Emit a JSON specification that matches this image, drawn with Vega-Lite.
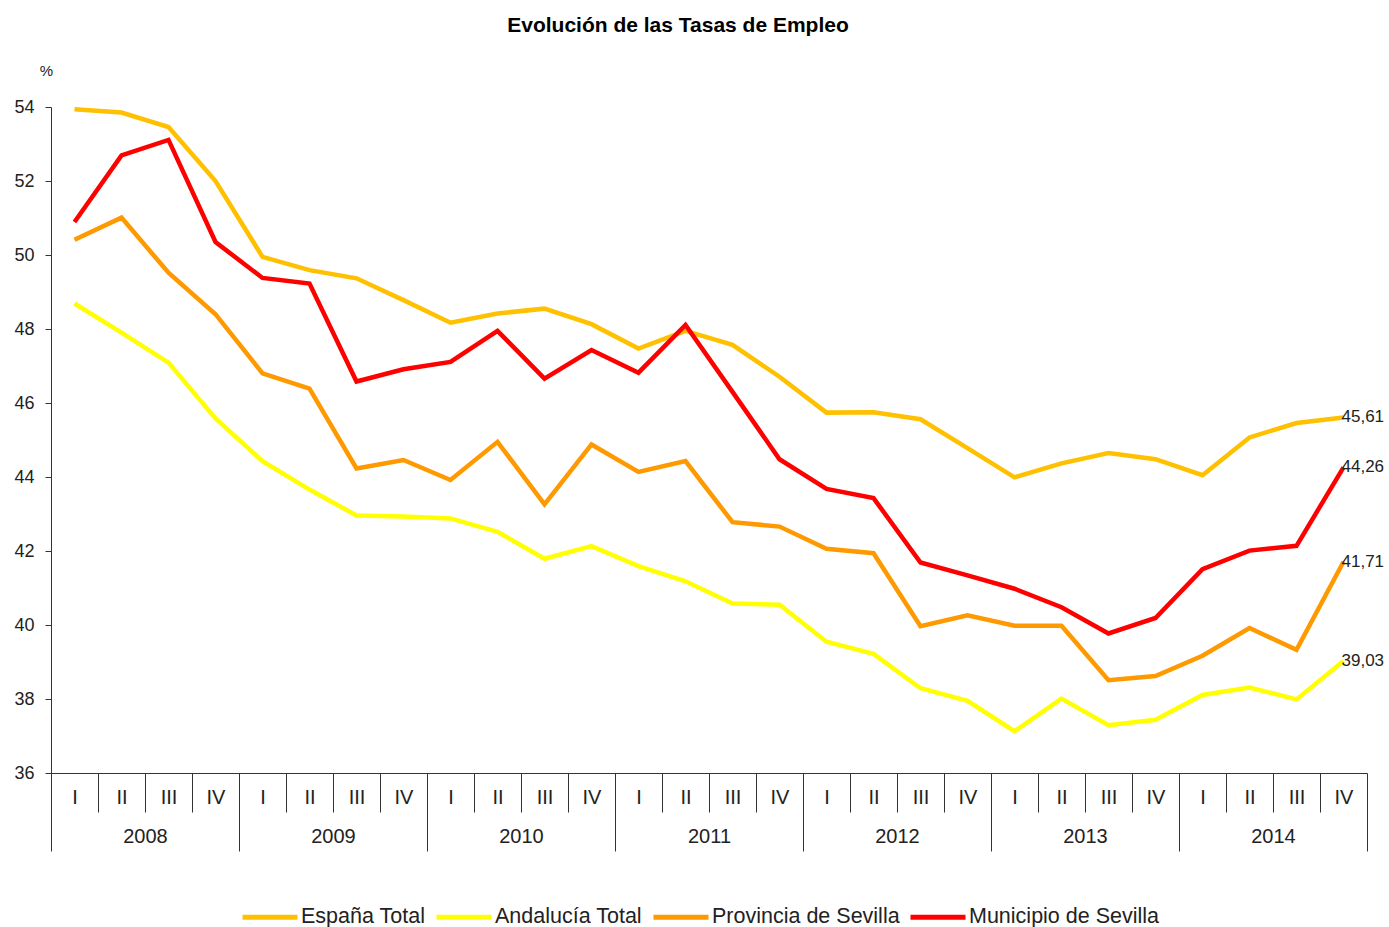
{
  "$schema": "https://vega.github.io/schema/vega-lite/v6.json",
  "width": 1316,
  "height": 666,
  "autosize": {"type": "none"},
  "padding": {"left": 51, "top": 107, "right": 22, "bottom": 154},
  "background": "white",
  "config": {
    "font": "Liberation Sans",
    "view": {"stroke": null},
    "locale": {"number": {"decimal": ",", "thousands": ".", "grouping": [3], "currency": ["", " €"]}}
  },
  "title": {
    "text": "Evolución de las Tasas de Empleo",
    "fontSize": 21,
    "fontWeight": "bold",
    "font": "Liberation Sans",
    "color": "#000000",
    "frame": "group",
    "anchor": "middle",
    "dx": -31,
    "offset": 27
  },
  "data": {
    "values": [
      {"serie": "España Total", "n": 1, "tasa": 53.94},
      {"serie": "España Total", "n": 2, "tasa": 53.85},
      {"serie": "España Total", "n": 3, "tasa": 53.46},
      {"serie": "España Total", "n": 4, "tasa": 52.00},
      {"serie": "España Total", "n": 5, "tasa": 49.95},
      {"serie": "España Total", "n": 6, "tasa": 49.59},
      {"serie": "España Total", "n": 7, "tasa": 49.37},
      {"serie": "España Total", "n": 8, "tasa": 48.78},
      {"serie": "España Total", "n": 9, "tasa": 48.17},
      {"serie": "España Total", "n": 10, "tasa": 48.42},
      {"serie": "España Total", "n": 11, "tasa": 48.55},
      {"serie": "España Total", "n": 12, "tasa": 48.13},
      {"serie": "España Total", "n": 13, "tasa": 47.47},
      {"serie": "España Total", "n": 14, "tasa": 47.95},
      {"serie": "España Total", "n": 15, "tasa": 47.57},
      {"serie": "España Total", "n": 16, "tasa": 46.71},
      {"serie": "España Total", "n": 17, "tasa": 45.74},
      {"serie": "España Total", "n": 18, "tasa": 45.75},
      {"serie": "España Total", "n": 19, "tasa": 45.56},
      {"serie": "España Total", "n": 20, "tasa": 44.78},
      {"serie": "España Total", "n": 21, "tasa": 43.99},
      {"serie": "España Total", "n": 22, "tasa": 44.37},
      {"serie": "España Total", "n": 23, "tasa": 44.65},
      {"serie": "España Total", "n": 24, "tasa": 44.48},
      {"serie": "España Total", "n": 25, "tasa": 44.05},
      {"serie": "España Total", "n": 26, "tasa": 45.07},
      {"serie": "España Total", "n": 27, "tasa": 45.46},
      {"serie": "España Total", "n": 28, "tasa": 45.61},
      {"serie": "Andalucía Total", "n": 1, "tasa": 48.69},
      {"serie": "Andalucía Total", "n": 2, "tasa": 47.90},
      {"serie": "Andalucía Total", "n": 3, "tasa": 47.09},
      {"serie": "Andalucía Total", "n": 4, "tasa": 45.58},
      {"serie": "Andalucía Total", "n": 5, "tasa": 44.43},
      {"serie": "Andalucía Total", "n": 6, "tasa": 43.66},
      {"serie": "Andalucía Total", "n": 7, "tasa": 42.96},
      {"serie": "Andalucía Total", "n": 8, "tasa": 42.93},
      {"serie": "Andalucía Total", "n": 9, "tasa": 42.88},
      {"serie": "Andalucía Total", "n": 10, "tasa": 42.52},
      {"serie": "Andalucía Total", "n": 11, "tasa": 41.79},
      {"serie": "Andalucía Total", "n": 12, "tasa": 42.13},
      {"serie": "Andalucía Total", "n": 13, "tasa": 41.59},
      {"serie": "Andalucía Total", "n": 14, "tasa": 41.18},
      {"serie": "Andalucía Total", "n": 15, "tasa": 40.58},
      {"serie": "Andalucía Total", "n": 16, "tasa": 40.55},
      {"serie": "Andalucía Total", "n": 17, "tasa": 39.55},
      {"serie": "Andalucía Total", "n": 18, "tasa": 39.22},
      {"serie": "Andalucía Total", "n": 19, "tasa": 38.29},
      {"serie": "Andalucía Total", "n": 20, "tasa": 37.95},
      {"serie": "Andalucía Total", "n": 21, "tasa": 37.13},
      {"serie": "Andalucía Total", "n": 22, "tasa": 38.01},
      {"serie": "Andalucía Total", "n": 23, "tasa": 37.29},
      {"serie": "Andalucía Total", "n": 24, "tasa": 37.44},
      {"serie": "Andalucía Total", "n": 25, "tasa": 38.11},
      {"serie": "Andalucía Total", "n": 26, "tasa": 38.31},
      {"serie": "Andalucía Total", "n": 27, "tasa": 37.99},
      {"serie": "Andalucía Total", "n": 28, "tasa": 39.03},
      {"serie": "Provincia de Sevilla", "n": 1, "tasa": 50.41},
      {"serie": "Provincia de Sevilla", "n": 2, "tasa": 51.01},
      {"serie": "Provincia de Sevilla", "n": 3, "tasa": 49.52},
      {"serie": "Provincia de Sevilla", "n": 4, "tasa": 48.40},
      {"serie": "Provincia de Sevilla", "n": 5, "tasa": 46.80},
      {"serie": "Provincia de Sevilla", "n": 6, "tasa": 46.39},
      {"serie": "Provincia de Sevilla", "n": 7, "tasa": 44.23},
      {"serie": "Provincia de Sevilla", "n": 8, "tasa": 44.46},
      {"serie": "Provincia de Sevilla", "n": 9, "tasa": 43.92},
      {"serie": "Provincia de Sevilla", "n": 10, "tasa": 44.95},
      {"serie": "Provincia de Sevilla", "n": 11, "tasa": 43.26},
      {"serie": "Provincia de Sevilla", "n": 12, "tasa": 44.88},
      {"serie": "Provincia de Sevilla", "n": 13, "tasa": 44.14},
      {"serie": "Provincia de Sevilla", "n": 14, "tasa": 44.43},
      {"serie": "Provincia de Sevilla", "n": 15, "tasa": 42.78},
      {"serie": "Provincia de Sevilla", "n": 16, "tasa": 42.66},
      {"serie": "Provincia de Sevilla", "n": 17, "tasa": 42.06},
      {"serie": "Provincia de Sevilla", "n": 18, "tasa": 41.94},
      {"serie": "Provincia de Sevilla", "n": 19, "tasa": 39.97},
      {"serie": "Provincia de Sevilla", "n": 20, "tasa": 40.26},
      {"serie": "Provincia de Sevilla", "n": 21, "tasa": 39.98},
      {"serie": "Provincia de Sevilla", "n": 22, "tasa": 39.98},
      {"serie": "Provincia de Sevilla", "n": 23, "tasa": 38.51},
      {"serie": "Provincia de Sevilla", "n": 24, "tasa": 38.62},
      {"serie": "Provincia de Sevilla", "n": 25, "tasa": 39.17},
      {"serie": "Provincia de Sevilla", "n": 26, "tasa": 39.92},
      {"serie": "Provincia de Sevilla", "n": 27, "tasa": 39.33},
      {"serie": "Provincia de Sevilla", "n": 28, "tasa": 41.71},
      {"serie": "Municipio de Sevilla", "n": 1, "tasa": 50.89},
      {"serie": "Municipio de Sevilla", "n": 2, "tasa": 52.69},
      {"serie": "Municipio de Sevilla", "n": 3, "tasa": 53.11},
      {"serie": "Municipio de Sevilla", "n": 4, "tasa": 50.35},
      {"serie": "Municipio de Sevilla", "n": 5, "tasa": 49.38},
      {"serie": "Municipio de Sevilla", "n": 6, "tasa": 49.23},
      {"serie": "Municipio de Sevilla", "n": 7, "tasa": 46.58},
      {"serie": "Municipio de Sevilla", "n": 8, "tasa": 46.91},
      {"serie": "Municipio de Sevilla", "n": 9, "tasa": 47.11},
      {"serie": "Municipio de Sevilla", "n": 10, "tasa": 47.95},
      {"serie": "Municipio de Sevilla", "n": 11, "tasa": 46.66},
      {"serie": "Municipio de Sevilla", "n": 12, "tasa": 47.43},
      {"serie": "Municipio de Sevilla", "n": 13, "tasa": 46.82},
      {"serie": "Municipio de Sevilla", "n": 14, "tasa": 48.11},
      {"serie": "Municipio de Sevilla", "n": 15, "tasa": 46.30},
      {"serie": "Municipio de Sevilla", "n": 16, "tasa": 44.48},
      {"serie": "Municipio de Sevilla", "n": 17, "tasa": 43.68},
      {"serie": "Municipio de Sevilla", "n": 18, "tasa": 43.43},
      {"serie": "Municipio de Sevilla", "n": 19, "tasa": 41.69},
      {"serie": "Municipio de Sevilla", "n": 20, "tasa": 41.34},
      {"serie": "Municipio de Sevilla", "n": 21, "tasa": 40.98},
      {"serie": "Municipio de Sevilla", "n": 22, "tasa": 40.48},
      {"serie": "Municipio de Sevilla", "n": 23, "tasa": 39.77},
      {"serie": "Municipio de Sevilla", "n": 24, "tasa": 40.19},
      {"serie": "Municipio de Sevilla", "n": 25, "tasa": 41.51},
      {"serie": "Municipio de Sevilla", "n": 26, "tasa": 42.01},
      {"serie": "Municipio de Sevilla", "n": 27, "tasa": 42.14},
      {"serie": "Municipio de Sevilla", "n": 28, "tasa": 44.26}
    ]
  },
  "encoding": {
    "y": {
      "field": "tasa",
      "type": "quantitative",
      "scale": {"domain": [36, 54], "nice": false, "zero": false},
      "axis": {
        "values": [36, 38, 40, 42, 44, 46, 48, 50, 52, 54],
        "grid": false,
        "tickSize": 6,
        "tickColor": "#333333",
        "domainColor": "#333333",
        "labelPadding": 11,
        "labelFontSize": 18,
        "labelColor": "#222222",
        "title": "%",
        "titleAngle": 0,
        "titleX": -5,
        "titleY": -37,
        "titleAlign": "center",
        "titleBaseline": "middle",
        "titleFontSize": 15,
        "titleFontWeight": "normal",
        "titleColor": "#222222"
      }
    }
  },
  "layer": [
    {
      "mark": {"type": "line", "strokeWidth": 4.5, "clip": false},
      "encoding": {
        "x": {
          "field": "n",
          "type": "quantitative",
          "scale": {"domain": [0.5, 28.5], "nice": false, "zero": false},
          "axis": {
            "orient": "bottom",
            "values": [0.5, 1.5, 2.5, 3.5, 4.5, 5.5, 6.5, 7.5, 8.5, 9.5, 10.5, 11.5, 12.5, 13.5, 14.5, 15.5, 16.5, 17.5, 18.5, 19.5, 20.5, 21.5, 22.5, 23.5, 24.5, 25.5, 26.5, 27.5, 28.5],
            "labels": false,
            "grid": false,
            "title": null,
            "domainColor": "#333333",
            "tickColor": "#333333",
            "tickSize": {"condition": {"test": "(datum.value - 0.5) % 4 === 0", "value": 78}, "value": 39}
          }
        },
        "color": {
          "field": "serie",
          "type": "nominal",
          "scale": {
            "domain": ["España Total", "Andalucía Total", "Provincia de Sevilla", "Municipio de Sevilla"],
            "range": ["#FFC000", "#FFFF00", "#FF9900", "#FF0000"]
          },
          "legend": {
            "orient": "none",
            "legendX": 189,
            "legendY": 780,
            "direction": "horizontal",
            "title": null,
            "symbolType": "stroke",
            "symbolStrokeWidth": 5,
            "symbolSize": 3025,
            "labelFontSize": 21.5,
            "labelOffset": 1,
            "columnPadding": 0,
            "labelColor": "#222222",
            "labelLimit": 400
          }
        }
      }
    },
    {
      "transform": [{"filter": "datum.n === 28"}],
      "mark": {"type": "text", "align": "left", "baseline": "middle", "dx": -2, "fontSize": 17, "color": "#222222"},
      "encoding": {
        "x": {
          "field": "n",
          "type": "quantitative",
          "axis": {
            "orient": "bottom",
            "values": [1, 2, 3, 4, 5, 6, 7, 8, 9, 10, 11, 12, 13, 14, 15, 16, 17, 18, 19, 20, 21, 22, 23, 24, 25, 26, 27, 28, 2.5, 6.5, 10.5, 14.5, 18.5, 22.5, 26.5],
            "labelExpr": "datum.value % 1 === 0 ? ['I','II','III','IV'][(datum.value - 1) % 4] : '' + (2008 + (datum.value - 2.5) / 4)",
            "ticks": false,
            "domain": false,
            "grid": false,
            "title": null,
            "labelOverlap": false,
            "labelFlush": false,
            "labelBound": false,
            "labelFontSize": 20,
            "labelColor": "#222222",
            "labelPadding": {"condition": {"test": "datum.value % 1 === 0", "value": 14}, "value": 53}
          }
        },
        "text": {"field": "tasa", "type": "quantitative", "format": ".2f"}
      }
    }
  ],
  "resolve": {"axis": {"x": "independent"}}
}
